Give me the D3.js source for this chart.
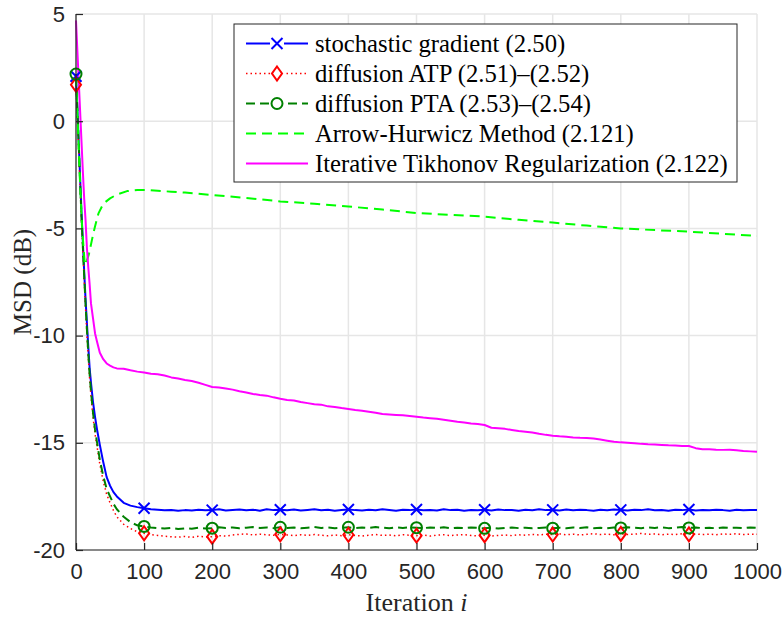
<!DOCTYPE html>
<html>
<head>
<meta charset="utf-8">
<script src="https://cdn.jsdelivr.net/npm/d3@7"></script>
<style>
  html, body { margin: 0; padding: 0; background: #fff; }
  svg { display: block; }
</style>
</head>
<body>
<svg id="chart" width="782" height="622"></svg>
<script>
// Iteration indices used by the noisy learning curves (dense early, every 10 afterwards)
const iterEarly = [0, 2, 4, 6, 8, 10, 12, 14, 16, 18, 20, 22, 25, 28, 31, 35, 40, 45, 50, 55, 60, 70, 80, 90];
const iterLate = d3.range(100, 1001, 10);
const iterations = iterEarly.concat(iterLate);

// Stochastic gradient (2.50), MSD in dB
const sgEarly = [2.1, 0.6, -1.0, -2.6, -4.2, -5.6, -7.0, -8.3, -9.4, -10.5, -11.5, -12.2, -13.1, -13.8, -14.4, -15.1, -15.9, -16.6, -17.0, -17.3, -17.5, -17.8, -17.93, -18.0];
const sgLate = [
  -18.05,-18.10,-18.12,-18.15,-18.13,-18.17,-18.14,-18.16,-18.12,-18.15,
  -18.14,-18.10,-18.16,-18.13,-18.11,-18.15,-18.12,-18.17,-18.10,-18.14,
  -18.12,-18.15,-18.11,-18.16,-18.13,-18.10,-18.15,-18.12,-18.17,-18.13,
  -18.11,-18.14,-18.16,-18.12,-18.15,-18.10,-18.13,-18.17,-18.12,-18.14,
  -18.11,-18.15,-18.13,-18.16,-18.10,-18.14,-18.12,-18.17,-18.13,-18.15,
  -18.12,-18.16,-18.11,-18.14,-18.13,-18.17,-18.12,-18.15,-18.10,-18.14,
  -18.13,-18.16,-18.11,-18.15,-18.12,-18.14,-18.17,-18.12,-18.15,-18.11,
  -18.13,-18.16,-18.12,-18.14,-18.10,-18.15,-18.13,-18.17,-18.12,-18.14,
  -18.11,-18.16,-18.13,-18.15,-18.12,-18.14,-18.17,-18.12,-18.15,-18.13,
  -18.14];

// Diffusion ATP (2.51)-(2.52)
const atpEarly = [1.7, 0.2, -1.4, -3.0, -4.6, -6.0, -7.4, -8.7, -9.9, -11.0, -12.0, -12.8, -13.8, -14.6, -15.2, -16.0, -16.8, -17.4, -17.8, -18.15, -18.45, -18.8, -19.0, -19.15];
const atpLate = [
  -19.22,-19.28,-19.32,-19.36,-19.38,-19.40,-19.37,-19.41,-19.36,-19.39,
  -19.38,-19.33,-19.35,-19.30,-19.27,-19.25,-19.30,-19.26,-19.29,-19.31,
  -19.27,-19.30,-19.33,-19.29,-19.32,-19.28,-19.31,-19.34,-19.30,-19.33,
  -19.29,-19.32,-19.35,-19.31,-19.28,-19.32,-19.30,-19.34,-19.29,-19.31,
  -19.33,-19.30,-19.35,-19.31,-19.29,-19.33,-19.30,-19.28,-19.32,-19.34,
  -19.31,-19.35,-19.32,-19.30,-19.33,-19.29,-19.31,-19.27,-19.30,-19.26,
  -19.28,-19.25,-19.29,-19.26,-19.30,-19.27,-19.24,-19.28,-19.26,-19.29,
  -19.25,-19.28,-19.26,-19.23,-19.27,-19.25,-19.29,-19.26,-19.28,-19.24,
  -19.27,-19.25,-19.28,-19.26,-19.29,-19.25,-19.27,-19.24,-19.28,-19.26,
  -19.27];

// Diffusion PTA (2.53)-(2.54)
const ptaEarly = [2.2, 0.6, -1.1, -2.8, -4.4, -5.8, -7.2, -8.5, -9.7, -10.8, -11.8, -12.6, -13.6, -14.4, -15.0, -15.8, -16.55, -17.15, -17.5, -17.85, -18.1, -18.45, -18.7, -18.85];
const ptaLate = [
  -18.90,-18.95,-18.98,-19.00,-18.97,-19.02,-18.99,-19.01,-18.96,-19.00,
  -18.98,-18.94,-18.97,-18.95,-18.99,-18.96,-18.93,-18.97,-18.95,-18.98,
  -18.94,-18.97,-18.95,-18.99,-18.96,-18.93,-18.97,-18.95,-18.98,-18.96,
  -18.94,-18.98,-18.95,-18.97,-18.93,-18.96,-18.99,-18.95,-18.97,-18.94,
  -18.96,-18.98,-18.95,-18.97,-18.94,-18.99,-18.96,-18.98,-18.95,-18.97,
  -18.99,-18.96,-19.00,-18.97,-18.95,-18.98,-18.96,-18.99,-18.97,-18.95,
  -18.98,-18.96,-18.99,-18.95,-18.97,-18.94,-18.98,-18.96,-18.99,-18.95,
  -18.97,-18.94,-18.96,-18.98,-18.95,-18.97,-18.94,-18.98,-18.96,-18.93,
  -18.97,-18.95,-18.98,-18.96,-18.99,-18.95,-18.97,-18.96,-18.98,-18.95,
  -18.97];

// Iterative Tikhonov Regularization (2.122)
const itrEarly = [4.7, 3.3, 1.9, 0.5, -0.9, -2.3, -3.6, -4.6, -5.9, -6.8, -7.6, -8.5, -9.2, -9.9, -10.3, -10.8, -11.1, -11.3, -11.4, -11.48, -11.53, -11.55, -11.62, -11.68];
const itrLate = [
  -11.72,-11.78,-11.80,-11.86,-11.95,-12.00,-12.07,-12.12,-12.20,-12.30,
  -12.40,-12.42,-12.47,-12.52,-12.60,-12.65,-12.72,-12.77,-12.80,-12.88,
  -12.95,-13.00,-13.03,-13.10,-13.15,-13.20,-13.22,-13.30,-13.33,-13.38,
  -13.42,-13.47,-13.50,-13.55,-13.60,-13.66,-13.68,-13.70,-13.72,-13.75,
  -13.78,-13.82,-13.85,-13.88,-13.92,-13.97,-14.02,-14.05,-14.10,-14.12,
  -14.17,-14.30,-14.32,-14.35,-14.40,-14.45,-14.48,-14.52,-14.58,-14.63,
  -14.67,-14.70,-14.72,-14.75,-14.77,-14.78,-14.80,-14.85,-14.90,-14.95,
  -14.98,-15.00,-15.02,-15.05,-15.07,-15.08,-15.10,-15.12,-15.13,-15.15,
  -15.15,-15.25,-15.30,-15.30,-15.32,-15.33,-15.32,-15.35,-15.38,-15.40,
  -15.42];

// Arrow-Hurwicz Method (2.121): smooth curve, own iteration grid
const ahIterations = [0, 3, 6, 9, 13, 16, 19, 22, 25, 28, 33, 40, 50, 60, 75, 90, 105, 120, 140, 160, 200, 250, 300, 350, 400, 450, 500, 550, 600, 650, 700, 750, 800, 850, 900, 950, 1000];
const ahValues = [2.1, -0.4, -2.9, -5.0, -6.7, -6.5, -6.2, -5.75, -5.3, -4.9, -4.3, -3.85, -3.6, -3.42, -3.26, -3.21, -3.21, -3.24, -3.29, -3.33, -3.44, -3.58, -3.74, -3.85, -3.98, -4.12, -4.28, -4.37, -4.45, -4.6, -4.73, -4.87, -5.0, -5.08, -5.15, -5.25, -5.35];

// Iterations that carry markers
const markerIters = [0, 100, 200, 300, 400, 500, 600, 700, 800, 900];

// Axis ticks
const xTicks = [0, 100, 200, 300, 400, 500, 600, 700, 800, 900, 1000];
const yTicks = [5, 0, -5, -10, -15, -20];

const seriesNames = [
  "stochastic gradient (2.50)",
  "diffusion ATP (2.51)\u2013(2.52)",
  "diffusion PTA (2.53)\u2013(2.54)",
  "Arrow-Hurwicz Method (2.121)",
  "Iterative Tikhonov Regularization (2.122)"
];

const series = [
  { name: seriesNames[0], x: iterations, y: sgEarly.concat(sgLate), color: "#0000ff", width: 2, dash: null, marker: "x" },
  { name: seriesNames[1], x: iterations, y: atpEarly.concat(atpLate), color: "#ff0000", width: 1.5, dash: "1.5,3", marker: "diamond" },
  { name: seriesNames[2], x: iterations, y: ptaEarly.concat(ptaLate), color: "#008000", width: 2, dash: "9,5", marker: "circle" },
  { name: seriesNames[3], x: ahIterations, y: ahValues, color: "#00ff00", width: 2, dash: "10,6", marker: null },
  { name: seriesNames[4], x: iterations, y: itrEarly.concat(itrLate), color: "#ff00ff", width: 2, dash: null, marker: null }
];

const svg = d3.select("#chart");
const margin = { left: 76, right: 25, top: 14, bottom: 72 };
const W = 782, H = 622;
const x = d3.scaleLinear().domain([0, 1000]).range([margin.left, W - margin.right]);
const y = d3.scaleLinear().domain([-20, 5]).range([H - margin.bottom, margin.top]);

const axisColor = "#262626";
const gridColor = "#e6e6e6";
const serif = "'Liberation Serif', 'Times New Roman', serif";
const sans = "'Liberation Sans', Arial, sans-serif";

// Grid
const grid = svg.append("g");
grid.selectAll(".gx").data(xTicks).enter().append("line")
  .attr("x1", d => x(d)).attr("x2", d => x(d))
  .attr("y1", y(-20)).attr("y2", y(5))
  .attr("stroke", gridColor).attr("stroke-width", 1.5);
grid.selectAll(".gy").data(yTicks).enter().append("line")
  .attr("x1", x(0)).attr("x2", x(1000))
  .attr("y1", d => y(d)).attr("y2", d => y(d))
  .attr("stroke", gridColor).attr("stroke-width", 1.5);

// Lines
const plot = svg.append("g");
series.forEach(s => {
  const pts = s.x.map((xi, k) => [xi, s.y[k]]);
  const line = d3.line().x(d => x(d[0])).y(d => y(d[1]));
  plot.append("path")
    .attr("d", line(pts))
    .attr("fill", "none")
    .attr("stroke", s.color)
    .attr("stroke-width", s.width)
    .attr("stroke-linejoin", "round")
    .attr("stroke-dasharray", s.dash);
});

function drawMarker(g, type, cx, cy, color) {
  if (type === "x") {
    const r = 5.5;
    g.append("path")
      .attr("d", `M${cx - r},${cy - r}L${cx + r},${cy + r}M${cx - r},${cy + r}L${cx + r},${cy - r}`)
      .attr("stroke", color).attr("stroke-width", 2).attr("fill", "none");
  } else if (type === "diamond") {
    const r = 7;
    g.append("path")
      .attr("d", `M${cx},${cy - r}L${cx + r * 0.72},${cy}L${cx},${cy + r}L${cx - r * 0.72},${cy}Z`)
      .attr("stroke", color).attr("stroke-width", 2).attr("fill", "none");
  } else if (type === "circle") {
    g.append("circle").attr("cx", cx).attr("cy", cy).attr("r", 5.5)
      .attr("stroke", color).attr("stroke-width", 2).attr("fill", "none");
  }
}

// Markers
series.filter(s => s.marker).forEach(s => {
  markerIters.forEach(mi => {
    const k = s.x.indexOf(mi);
    drawMarker(plot, s.marker, x(mi), y(s.y[k]), s.color);
  });
});

// Axes (left and bottom only, ticks pointing inwards)
const fmt = d => String(d);
const xAxis = d3.axisBottom(x).tickValues(xTicks).tickSize(-7).tickPadding(13).tickFormat(fmt);
const yAxis = d3.axisLeft(y).tickValues(yTicks).tickSize(-7).tickPadding(11).tickFormat(fmt);

const gx = svg.append("g").attr("transform", `translate(0,${y(-20)})`).call(xAxis);
const gy = svg.append("g").attr("transform", `translate(${x(0)},0)`).call(yAxis);
[gx, gy].forEach(g => {
  g.attr("font-size", null).attr("font-family", null);
  g.select(".domain").attr("stroke", axisColor).attr("stroke-width", 1.2);
  g.selectAll(".tick line").attr("stroke", axisColor).attr("stroke-width", 1.2);
  g.selectAll(".tick text")
    .attr("fill", axisColor)
    .attr("font-family", sans)
    .attr("font-size", 22);
});
gx.select(".domain").attr("d", `M${x(0)},0H${x(1000)}`);
gy.select(".domain").attr("d", `M0,${y(-20)}V${y(5)}`);

// Axis titles
svg.append("text")
  .attr("x", (x(0) + x(1000)) / 2).attr("y", 611)
  .attr("text-anchor", "middle")
  .attr("font-family", serif)
  .attr("font-size", 26).attr("fill", axisColor)
  .html("Iteration <tspan font-style='italic'>i</tspan>");

svg.append("text")
  .attr("transform", `translate(31,${(y(5) + y(-20)) / 2}) rotate(-90)`)
  .attr("text-anchor", "middle")
  .attr("font-family", serif)
  .attr("font-size", 25).attr("fill", axisColor)
  .text("MSD (dB)");

// Legend
const legend = svg.append("g");
const lx = 234, ly = 24, lw = 503, lh = 158, rowH = 30;
legend.append("rect")
  .attr("x", lx).attr("y", ly).attr("width", lw).attr("height", lh)
  .attr("fill", "#fff").attr("stroke", axisColor).attr("stroke-width", 1);
series.forEach((s, k) => {
  const cy = ly + 19.5 + k * rowH;
  legend.append("line")
    .attr("x1", lx + 12).attr("x2", lx + 74)
    .attr("y1", cy).attr("y2", cy)
    .attr("stroke", s.color).attr("stroke-width", s.width)
    .attr("stroke-dasharray", s.dash);
  if (s.marker) {
    legend.append("rect").attr("x", lx + 36).attr("y", cy - 7).attr("width", 14).attr("height", 14).attr("fill", "#fff");
    drawMarker(legend, s.marker, lx + 43, cy, s.color);
  }
  legend.append("text")
    .attr("x", lx + 81).attr("y", cy + 8)
    .attr("font-family", serif)
    .attr("font-size", 24.7).attr("fill", "#000")
    .text(s.name);
});
</script>
</body>
</html>
